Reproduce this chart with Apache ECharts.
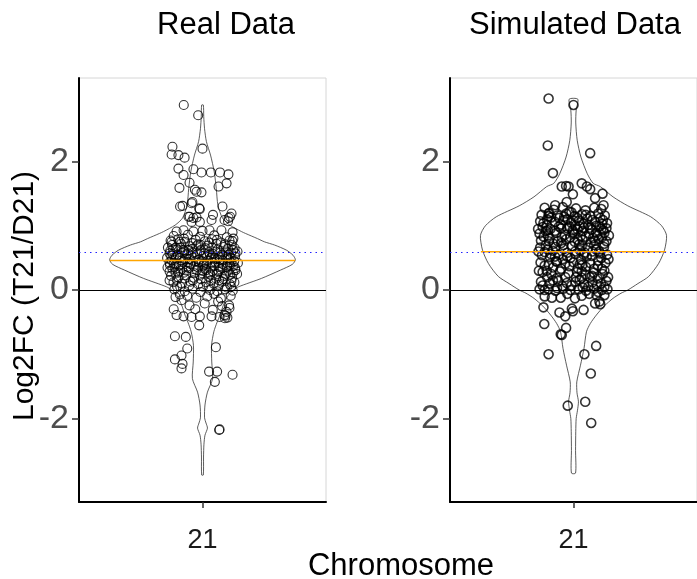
<!DOCTYPE html>
<html><head><meta charset="utf-8">
<script src="https://cdn.jsdelivr.net/npm/echarts@6/dist/echarts.min.js"></script>
<style>html,body{margin:0;padding:0;background:#fff}#c{width:697px;height:579px}</style>
</head><body><div id="c"></div>
<script>
// ---------- data ----------
const categories = ['21'];
const panelTitles = ['Real Data', 'Simulated Data'];
const axisTitles = {x: 'Chromosome', y: 'Log2FC (T21/D21)'};
const yTicks = [-2, 0, 2];
const expectedLog2FC = 0.585;          // blue dotted reference line
const medians = [0.46, 0.595];         // orange median segments
const violinScale = 0.45;              // half of violin width (category units)

// violin outlines: y value and half-width (category units)
const realViolinY = [2.88, 2.70, 2.51, 2.31, 2.10, 1.84, 1.58, 1.32, 1.12, 1.01, 0.91, 0.88, 0.80, 0.75, 0.70, 0.62, 0.54, 0.47, 0.40, 0.31, 0.18, 0.05, 0.00, -0.08, -0.23, -0.39, -0.50, -0.65, -0.86, -1.12, -1.38, -1.59, -1.79, -1.99, -2.07, -2.15, -2.26, -2.40, -2.60, -2.88];
const realViolinW = [0.004, 0.006, 0.010, 0.019, 0.039, 0.057, 0.067, 0.075, 0.097, 0.133, 0.189, 0.209, 0.267, 0.301, 0.350, 0.408, 0.440, 0.451, 0.437, 0.379, 0.286, 0.175, 0.150, 0.126, 0.102, 0.085, 0.071, 0.055, 0.044, 0.045, 0.049, 0.024, 0.012, 0.010, 0.017, 0.024, 0.012, 0.007, 0.005, 0.004];

const simViolinY = [2.97, 2.80, 2.60, 2.33, 2.07, 1.81, 1.66, 1.61, 1.45, 1.31, 1.14, 1.00, 0.85, 0.62, 0.41, 0.21, 0.10, 0.00, -0.05, -0.13, -0.25, -0.39, -0.52, -0.65, -0.91, -1.17, -1.43, -1.60, -1.74, -1.88, -2.00, -2.20, -2.50, -2.85];
const simViolinW = [0.021, 0.013, 0.011, 0.018, 0.036, 0.067, 0.096, 0.130, 0.192, 0.264, 0.375, 0.428, 0.452, 0.442, 0.413, 0.365, 0.313, 0.264, 0.231, 0.192, 0.149, 0.111, 0.082, 0.063, 0.051, 0.034, 0.016, 0.017, 0.024, 0.019, 0.013, 0.011, 0.010, 0.010];

// jittered points: [jitter offset from category, log2FC]
const realPoints = [
[-0.091,2.88],[-0.021,2.72],[0.000,2.20],[-0.146,2.23],[-0.150,2.11],[-0.117,2.10],[-0.087,2.06],[-0.117,1.89],[-0.092,1.79],[-0.044,1.88],
[-0.005,1.83],[0.041,1.83],[0.085,1.83],[0.126,1.80],[0.117,1.66],[0.078,1.61],[-0.112,1.59],[-0.063,1.67],[-0.029,1.53],[-0.005,1.52],
[-0.037,1.56],[-0.109,1.30],[-0.097,1.31],[-0.049,1.37],[-0.053,1.35],[-0.013,1.26],[-0.016,1.27],[0.097,1.30],[0.141,1.19],[0.051,1.17],
[-0.062,1.14],[-0.029,1.13],[-0.053,1.06],[-0.013,1.06],[0.044,1.09],[0.107,1.09],[0.124,1.07],[0.134,1.14],[0.127,1.12],[-0.068,1.14],
[-0.044,1.12],[-0.126,0.91],[-0.092,0.93],[-0.044,0.91],[0.000,0.92],[0.034,0.93],[0.092,0.93],[0.146,0.90],
[-0.140,0.84],[-0.071,0.86],[-0.012,0.83],[0.057,0.85],[0.118,0.82],[0.150,0.80],
[-0.155,0.77],[-0.118,0.79],[-0.085,0.75],[-0.033,0.78],[0.012,0.76],[0.046,0.79],[0.090,0.74],[0.131,0.77],
[-0.148,0.70],[-0.104,0.72],[-0.060,0.68],[-0.021,0.71],[0.025,0.69],[0.068,0.72],[0.103,0.67],[0.142,0.70],[-0.130,0.66],[0.156,0.65],
[-0.157,0.61],[-0.122,0.63],[-0.088,0.60],[-0.050,0.64],[-0.008,0.62],[0.031,0.59],[0.074,0.63],[0.112,0.60],[0.149,0.62],[-0.070,0.57],[0.052,0.56],[0.128,0.55],
[-0.152,0.53],[-0.111,0.50],[-0.078,0.54],[-0.037,0.51],[0.004,0.53],[0.041,0.50],[0.083,0.52],[0.121,0.49],[0.158,0.52],[-0.135,0.47],[-0.018,0.47],[0.098,0.46],
[-0.160,0.43],[-0.127,0.41],[-0.094,0.44],[-0.056,0.40],[-0.019,0.43],[0.020,0.41],[0.061,0.44],[0.099,0.40],[0.137,0.43],[-0.043,0.37],[0.078,0.36],[0.151,0.38],
[-0.146,0.33],[-0.108,0.30],[-0.066,0.34],[-0.028,0.31],[0.011,0.33],[0.049,0.29],[0.088,0.32],[0.126,0.30],[0.159,0.34],[-0.131,0.27],[-0.002,0.26],[0.113,0.25],
[-0.153,0.22],[-0.117,0.20],[-0.080,0.23],[-0.041,0.19],[0.029,0.21],[0.066,0.18],[0.106,0.22],[0.144,0.19],[-0.012,0.24],[0.081,0.15],
[-0.141,0.12],[-0.100,0.10],[-0.058,0.13],[-0.020,0.09],[0.017,0.12],[0.054,0.10],[0.095,0.13],[0.133,0.09],[-0.124,0.06],[0.002,0.05],[0.118,0.04],
[-0.137,0.01],[-0.086,-0.02],[-0.048,0.02],[-0.010,-0.03],[0.036,0.00],[0.072,-0.02],[0.110,0.01],[0.147,-0.01],[-0.110,-0.07],[0.057,-0.06],
[-0.131,-0.11],[-0.074,-0.09],[-0.030,-0.12],[0.023,-0.10],[0.089,-0.13],[0.137,-0.09],
[-0.098,0.58],[-0.025,0.56],[0.015,0.65],[0.063,0.60],[0.139,0.58],[-0.145,0.56],[-0.064,0.48],[0.026,0.46],[0.071,0.48],[0.137,0.50],
[-0.115,0.38],[-0.076,0.36],[0.003,0.38],[0.042,0.35],[0.119,0.36],[-0.158,0.39],[-0.091,0.27],[0.030,0.27],[0.070,0.25],[0.148,0.27],
[-0.150,0.46],[-0.120,0.55],[-0.084,0.48],[-0.046,0.58],[-0.004,0.45],[0.036,0.55],[0.079,0.42],[0.116,0.52],[0.154,0.45],
[-0.136,0.36],[-0.099,0.33],[-0.060,0.41],[-0.022,0.35],[0.018,0.31],[0.058,0.38],[0.097,0.34],[0.133,0.39],
[-0.143,0.63],[-0.107,0.66],[-0.068,0.62],[-0.030,0.68],[0.008,0.57],[0.047,0.66],[0.087,0.58],[0.124,0.64],
[-0.125,0.16],[-0.086,0.18],[-0.047,0.15],[-0.008,0.17],[0.041,0.15],[0.101,0.17],[0.140,0.14],
[-0.111,0.75],[-0.049,0.73],[0.033,0.74],[0.110,0.71],[-0.160,0.29],[0.160,0.31],[-0.160,0.57],[0.160,0.57],
[-0.172,0.50],[-0.168,0.66],[-0.170,0.35],[0.172,0.42],[0.170,0.60],[0.168,0.25],
[-0.128,0.52],[-0.092,0.62],[-0.055,0.53],[-0.015,0.60],[0.022,0.52],[0.058,0.50],[0.095,0.55],[0.130,0.47],
[-0.140,0.42],[-0.103,0.46],[-0.070,0.43],[-0.033,0.45],[0.008,0.41],[0.046,0.43],[0.085,0.47],[0.122,0.41],
[-0.118,0.27],[-0.077,0.30],[-0.038,0.26],[0.000,0.30],[0.038,0.24],[0.078,0.29],[0.135,0.24],
[-0.150,0.75],[-0.090,0.80],[-0.010,0.70],[0.070,0.78],[0.145,0.76],
[-0.108,0.05],[-0.065,0.07],[0.030,0.06],[0.080,0.08],[0.140,0.05],[-0.160,0.15],[0.155,0.12],
[-0.102,-0.16],[-0.063,-0.24],[0.011,-0.21],[0.076,-0.18],[0.129,-0.24],[-0.126,-0.39],[-0.092,-0.41],[-0.053,-0.42],[-0.013,-0.41],[-0.016,-0.55],
[0.044,-0.41],[0.083,-0.42],[0.107,-0.39],[0.117,-0.34],[0.131,-0.28],[0.112,-0.40],[0.121,-0.43],[0.109,-0.44],[-0.134,-0.72],[-0.081,-0.73],
[-0.074,-0.91],[-0.102,-1.02],[-0.134,-1.08],[-0.102,-1.22],[-0.097,-1.15],[0.065,-0.89],[0.032,-1.27],[0.071,-1.27],[0.060,-1.43],[0.146,-1.32],
[0.081,-2.18],[0.083,-2.17],[-0.140,-0.30],[-0.035,-0.30],[0.050,-0.31],[0.095,-0.25]
];

const simPoints = [
[-0.121,2.98],[0.000,2.88],[-0.125,2.25],[0.081,2.13],[-0.100,1.82],[-0.057,1.61],[-0.036,1.62],[-0.024,1.61],[0.040,1.66],[0.065,1.61],
[0.081,1.57],[0.141,1.50],[0.105,1.43],[-0.003,1.49],[-0.033,1.37],[0.146,1.32],[-0.089,1.32],[-0.121,1.19],[-0.146,1.04],
[-0.140,1.28],[-0.095,1.25],[-0.052,1.29],[0.012,1.27],[0.058,1.24],[0.101,1.28],[0.135,1.26],[-0.020,1.22],
[-0.155,1.17],[-0.118,1.20],[-0.078,1.16],[-0.035,1.19],[0.005,1.15],[0.041,1.18],[0.083,1.15],[0.120,1.19],[0.152,1.16],[-0.010,1.21],
[-0.162,1.07],[-0.128,1.10],[-0.090,1.06],[-0.049,1.09],[-0.012,1.05],[0.026,1.08],[0.067,1.11],[0.105,1.06],[0.143,1.09],[0.163,1.04],[-0.070,1.12],[0.048,1.03],
[-0.150,0.98],[-0.112,0.95],[-0.071,0.99],[-0.030,0.96],[0.009,1.00],[0.050,0.97],[0.089,0.94],[0.127,0.99],[0.160,0.96],[-0.135,0.92],[-0.004,0.93],[0.072,1.01],
[-0.165,0.88],[-0.124,0.85],[-0.083,0.89],[-0.042,0.86],[-0.003,0.90],[0.035,0.84],[0.076,0.88],[0.115,0.85],[0.150,0.89],[-0.057,0.82],[0.095,0.81],
[-0.158,0.77],[-0.117,0.80],[-0.076,0.76],[-0.036,0.79],[0.006,0.75],[0.044,0.78],[0.084,0.74],[0.123,0.79],[0.160,0.76],[-0.097,0.72],[0.027,0.71],
[-0.162,0.66],[-0.125,0.63],[-0.088,0.67],[-0.047,0.64],[-0.008,0.68],[0.031,0.62],[0.072,0.66],[0.110,0.63],[0.148,0.67],[-0.140,0.59],[0.054,0.58],[0.129,0.57],
[-0.153,0.54],[-0.114,0.51],[-0.072,0.55],[-0.031,0.52],[0.011,0.56],[0.090,0.53],[0.135,0.50],[0.163,0.55],[-0.052,0.48],[0.036,0.47],
[-0.160,0.43],[-0.120,0.40],[-0.081,0.44],[-0.040,0.41],[0.000,0.43],[0.043,0.39],[0.081,0.42],[0.118,0.38],[0.155,0.42],[-0.099,0.35],[0.021,0.34],[0.138,0.33],
[-0.150,0.28],[-0.108,0.25],[-0.066,0.29],[-0.024,0.26],[0.017,0.28],[0.059,0.24],[0.098,0.27],[0.142,0.25],[-0.128,0.20],[0.040,0.19],[0.118,0.18],
[-0.158,0.13],[-0.116,0.10],[-0.074,0.14],[-0.033,0.11],[0.010,0.13],[0.052,0.09],[0.092,0.12],[0.133,0.10],[0.160,0.14],[-0.054,0.06],[0.072,0.05],
[-0.165,0.01],[-0.140,0.00],[-0.122,0.01],[-0.088,-0.01],[-0.050,0.02],[-0.015,0.00],[0.024,0.01],[0.061,-0.01],[0.100,0.02],[0.138,0.00],[0.165,0.01],
[-0.105,-0.12],[-0.062,-0.12],[0.007,-0.13],[0.076,-0.06],[0.112,-0.08],
[-0.108,1.13],[0.018,1.12],[0.130,1.12],[-0.060,1.02],[0.030,0.99],[0.110,1.00],[-0.145,0.83],[-0.015,0.82],[0.060,0.83],[0.138,0.82],
[-0.100,0.61],[0.008,0.60],[0.092,0.60],[-0.020,0.37],[0.060,0.36],[-0.080,0.19],[0.012,0.20],[0.080,0.20],[0.150,0.05],[-0.150,0.07],
[-0.130,1.01],[-0.090,0.92],[-0.045,1.14],[0.000,1.08],[0.045,0.92],[0.090,1.09],[0.135,0.95],
[-0.135,0.70],[-0.060,0.73],[0.020,0.78],[0.100,0.70],[0.150,0.72],[-0.110,0.56],[-0.015,0.50],[0.065,0.52],[0.120,0.46],
[-0.140,0.38],[-0.060,0.33],[0.040,0.29],[0.100,0.33],[-0.100,0.15],[-0.010,0.07],[0.030,0.16],[0.115,0.08],
[-0.140,-0.10],[-0.030,-0.06],[0.040,-0.09],[0.150,-0.08],[-0.085,0.45],[0.005,0.87],[0.110,0.89],[-0.020,0.99],
[-0.172,0.95],[-0.170,0.60],[-0.168,0.30],[0.172,0.85],[0.170,0.48],[0.168,0.20],
[-0.125,0.93],[-0.060,0.96],[0.020,0.94],[0.080,0.97],[0.145,0.93],
[-0.120,0.76],[-0.050,0.70],[0.040,0.69],[0.105,0.77],
[-0.090,0.52],[-0.030,0.58],[0.050,0.55],[0.125,0.60],
[-0.130,0.30],[-0.040,0.20],[0.030,0.40],[0.090,0.22],[0.150,0.30],
[-0.120,1.15],[-0.030,1.10],[0.060,1.17],[0.140,1.03],
[-0.080,0.03],[0.045,0.04],[0.120,-0.03],
[-0.146,-0.27],[-0.068,-0.35],[-0.040,-0.41],[-0.008,-0.29],[-0.003,-0.33],[0.049,-0.31],[0.105,-0.21],[0.126,-0.18],[0.130,-0.22],[-0.142,-0.53],
[-0.036,-0.59],[-0.062,-0.69],[-0.057,-0.70],[-0.121,-1.00],[0.053,-1.00],[0.110,-0.87],[0.084,-1.30],[-0.028,-1.80],[0.057,-1.74],[0.086,-2.07]
];

// ---------- chart ----------
const FONT = 'Liberation Sans';
const chart = echarts.init(document.getElementById('c'), null, {renderer: 'canvas'});

const grids = [
  {left: 79, top: 78, width: 247, height: 424, show: true, borderColor: '#d6d6d6', borderWidth: 1},
  {left: 450, top: 78, width: 250, height: 424, show: true, borderColor: '#d6d6d6', borderWidth: 1}
];

function xAxisFor(i) {
  return {
    type: 'value', gridIndex: i, min: 0.4, max: 1.6,
    splitLine: {show: false},
    axisLine: {show: true, onZero: false, lineStyle: {color: '#000', width: 2}},
    axisTick: {show: true, customValues: [1], length: 6, lineStyle: {color: '#333', width: 1.5}},
    axisLabel: {show: true, customValues: [1], formatter: () => categories[0], fontSize: 27, color: '#1a1a1a', fontFamily: FONT, margin: 25}
  };
}
function yAxisFor(i) {
  return {
    type: 'value', gridIndex: i, min: -3.3, max: 3.3,
    splitLine: {show: false},
    axisLine: {show: true, onZero: false, lineStyle: {color: '#000', width: 2}},
    axisTick: {show: true, customValues: yTicks, length: 7, lineStyle: {color: '#333', width: 1.5}},
    axisLabel: {show: true, customValues: yTicks, fontSize: 34, color: '#4d4d4d', fontFamily: FONT, margin: 10}
  };
}

function violinRenderer(ys, ws) {
  return function (params, api) {
    const pts = [];
    for (let i = 0; i < ys.length; i++) pts.push(api.coord([1 + ws[i], ys[i]]));
    for (let i = ys.length - 1; i >= 0; i--) pts.push(api.coord([1 - ws[i], ys[i]]));
    return {type: 'polygon', shape: {points: pts, smooth: 0.25}, style: {fill: 'none', stroke: '#333', lineWidth: 0.8}};
  };
}

const series = [];
const panels = [
  {points: realPoints, vy: realViolinY, vw: realViolinW, bw: 1.1},
  {points: simPoints, vy: simViolinY, vw: simViolinW, bw: 1.6}
];
panels.forEach((p, i) => {
  series.push({
    type: 'custom', xAxisIndex: i, yAxisIndex: i, clip: false, silent: true, z: 1,
    renderItem: violinRenderer(p.vy, p.vw), data: [[1, 0]]
  });
  series.push({
    type: 'scatter', xAxisIndex: i, yAxisIndex: i, silent: true, z: 2,
    symbol: 'circle', symbolSize: 9,
    itemStyle: {color: 'rgba(0,0,0,0)', borderColor: '#000', borderWidth: p.bw},
    data: p.points.map(d => [1 + d[0], d[1]])
  });
  series.push({
    type: 'line', xAxisIndex: i, yAxisIndex: i, silent: true, z: 3,
    symbol: 'none', lineStyle: {color: '#FFA500', width: 1.6},
    data: [[1 - violinScale, medians[i]], [1 + violinScale, medians[i]]],
    markLine: {
      silent: true, symbol: 'none', label: {show: false},
      data: [
        {yAxis: 0, lineStyle: {color: '#000', width: 1, type: 'solid'}},
        {yAxis: expectedLog2FC, lineStyle: {color: '#2222ff', width: 1.2, type: [1.5, 4]}}
      ]
    }
  });
});

const titleStyle = {fontSize: 31, fontFamily: FONT, fill: '#000', textAlign: 'center', textVerticalAlign: 'middle'};
chart.setOption({
  animation: false,
  backgroundColor: '#fff',
  grid: grids,
  xAxis: [xAxisFor(0), xAxisFor(1)],
  yAxis: [yAxisFor(0), yAxisFor(1)],
  series: series,
  graphic: [
    {type: 'text', style: Object.assign({text: panelTitles[0], x: 226, y: 25}, titleStyle)},
    {type: 'text', style: Object.assign({text: panelTitles[1], x: 575, y: 25}, titleStyle)},
    {type: 'text', style: Object.assign({text: axisTitles.x, x: 401, y: 566}, titleStyle)},
    {type: 'text', x: 25, y: 296, rotation: Math.PI / 2,
     style: {text: axisTitles.y, fontSize: 30, fontFamily: FONT, fill: '#000', textAlign: 'center', textVerticalAlign: 'middle'}}
  ]
});
</script></body></html>
